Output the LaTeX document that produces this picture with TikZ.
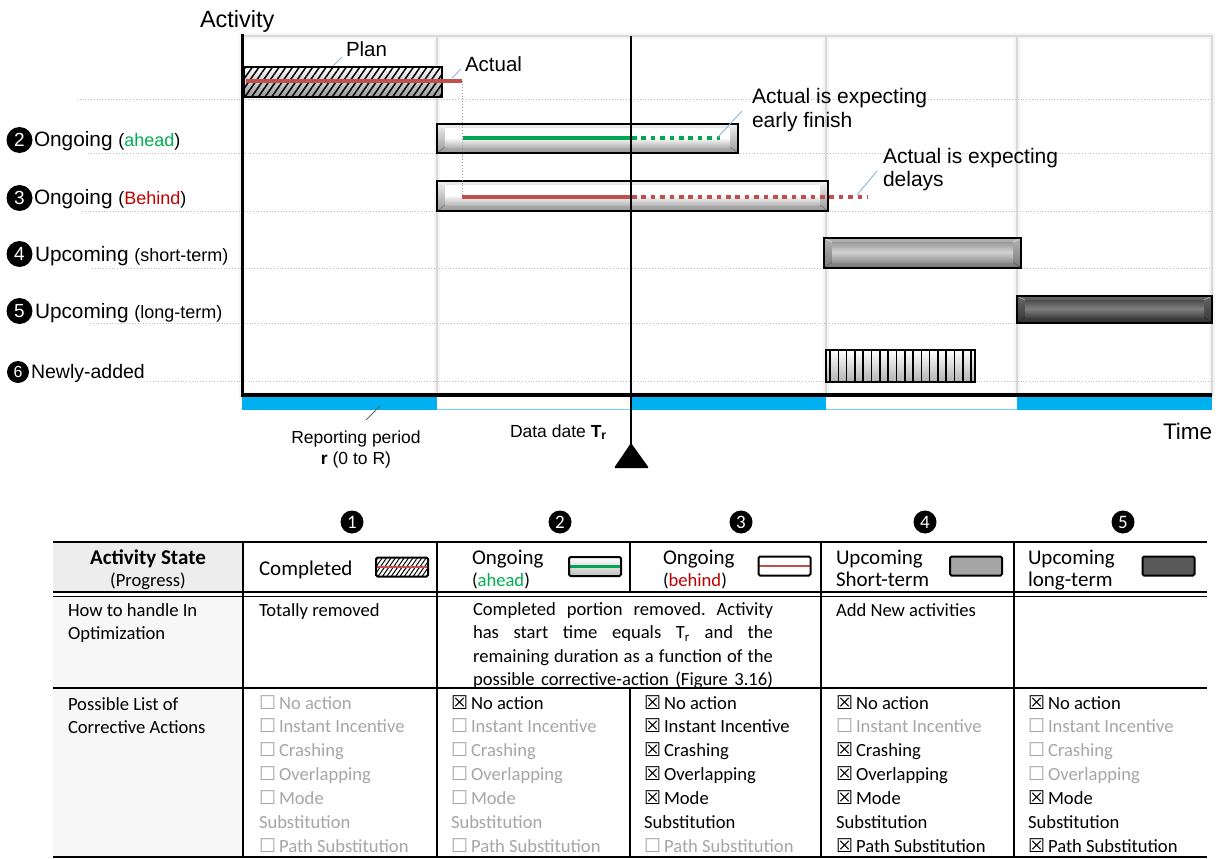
\documentclass[tikz,border=0pt]{standalone}
\usepackage{fontspec}
\setmainfont{Liberation Sans}
\newfontfamily\tabfont{Carlito}
\newfontfamily\boxfont{DejaVu Sans}
\usetikzlibrary{patterns.meta}
\frenchspacing

\definecolor{actred}{HTML}{C0504D}
\definecolor{actgreen}{HTML}{00A651}
\definecolor{txtgreen}{HTML}{00B050}
\definecolor{txtred}{HTML}{C00000}
\definecolor{band}{HTML}{00B0F0}
\definecolor{leader}{HTML}{8EB4E3}
\definecolor{offgray}{HTML}{A6A6A6}
\definecolor{midfill}{HTML}{A6A6A6}
\definecolor{darkfill}{HTML}{595959}

\newcommand{\fsz}[2]{\fontsize{#1}{#2}\selectfont}
% check-list entries: ticked (black) and unticked (grey)
\newcommand{\optyes}[1]{{\boxfont\fsz{19}{19}\char"2612}\hspace{3pt}#1}
\newcommand{\optno}[1]{\textcolor{offgray}{{\boxfont\fsz{19}{19}\char"2610}\hspace{3pt}#1}}
\newcommand{\optgray}[1]{\textcolor{offgray}{#1}}

\tikzset{
  every node/.style={inner sep=0pt, outer sep=0pt},
  chartlbl/.style={anchor=base west, font=\fsz{20.8}{25}},
  numdot/.style={circle, fill=black, text=white, minimum size=26pt, font=\fsz{19}{19}},
  tabdot/.style={circle, fill=black, text=white, minimum size=23pt, font=\tabfont\fsz{19}{19}},
  leaderline/.style={draw=leader, line width=0.9pt},
  rowline/.style={draw=black!25, line width=0.8pt, dotted},
  colglow/.style={draw=black!4, line width=6pt},
  colline/.style={draw=black!15, line width=1.2pt},
  actline/.style={line width=3.4pt},
  actdots/.style={line width=3.4pt, dash pattern=on 4.5pt off 4.9pt},
  axisline/.style={line width=3.6pt, line join=miter},
  tabline/.style={line width=2pt},
  hdr/.style={anchor=base west, font=\tabfont\fsz{21}{22}},
  body/.style={anchor=base west, font=\tabfont\fsz{18.6}{23.9}},
  bevel/.style n args={5}{draw=black, line width=2.6pt, path picture={
    \shade[top color=#1, bottom color=#2]
      (path picture bounding box.south west) rectangle (path picture bounding box.north east);
    \shade[top color=#3, bottom color=#5, middle color=#4]
      ([xshift=8pt,yshift=-4pt]path picture bounding box.north west) rectangle
      ([xshift=-8pt,yshift=6pt]path picture bounding box.south east);
    \draw[white, opacity=.45, line width=.8pt]
      (path picture bounding box.north west) -- ([xshift=8pt,yshift=-4pt]path picture bounding box.north west)
      (path picture bounding box.north east) -- ([xshift=-8pt,yshift=-4pt]path picture bounding box.north east);
    \draw[black, opacity=.25, line width=.8pt]
      (path picture bounding box.south west) -- ([xshift=8pt,yshift=6pt]path picture bounding box.south west)
      (path picture bounding box.south east) -- ([xshift=-8pt,yshift=6pt]path picture bounding box.south east);
  }},
  lightbar/.style={bevel={black!6}{black!40}{white}{white}{black!28}},
  midbar/.style={bevel={black!30}{black!52}{black!40}{black!18}{black!42}},
  darkbar/.style={bevel={black!60}{black!80}{black!70}{black!50}{black!72}},
  planbar/.style={draw=black, line width=2.6pt, path picture={
    \shade[top color=white, bottom color=black!40]
      (path picture bounding box.south west) rectangle (path picture bounding box.north east);
    \fill[pattern={Lines[angle=55,distance=5.5pt,line width=1.5pt]}, pattern color=black]
      (path picture bounding box.south west) rectangle (path picture bounding box.north east);
  }},
  newbar/.style={draw=black, line width=2.6pt, path picture={
    \shade[top color=white, bottom color=black!30]
      (path picture bounding box.south west) rectangle (path picture bounding box.north east);
    \fill[pattern={Lines[angle=90,distance=8.3pt,line width=1.6pt]}, pattern color=black]
      (path picture bounding box.south west) rectangle (path picture bounding box.north east);
  }},
  icon/.style={draw=black, line width=2pt, rounded corners=1.5pt, minimum width=52pt, minimum height=19pt},
}

\begin{document}
\begin{tikzpicture}[x=1pt, y=-1pt]
\useasboundingbox[fill=white] (0,0) rectangle (1218,859);

% ---------------- time grid ----------------
\foreach \xa/\xb in {242/437,437/826,826/1017,1017/1212}
  \draw[colglow] (\xa,36) rectangle (\xb,395);
\foreach \xa/\xb in {242/437,437/826,826/1017,1017/1212}
  \draw[colline] (\xa,36) rectangle (\xb,395);

% activity rows
\draw[rowline] (77,99) -- (1212,99);
\draw[rowline] (88,153) -- (1212,153);
\draw[rowline] (82,211) -- (1212,211);
\draw[rowline] (92,268) -- (1212,268);
\draw[rowline] (90,323) -- (1212,323);
\draw[rowline] (147,381) -- (1212,381);

% reporting-period band under the time axis
\fill[white] (242,397) rectangle (1212,410);
\draw[band!55, line width=.9pt] (242,409.5) -- (1212,409.5);
\foreach \xa/\xb in {242/437,632/826,1017/1212}
  \fill[band] (\xa,397) rectangle (\xb,410);

% ---------------- activity bars ----------------
\node[planbar, minimum width=198pt, minimum height=30pt] (plan) at (343,82) {};
\node[lightbar, minimum width=301pt, minimum height=29pt] (ahead) at (587.5,138.5) {};
\node[lightbar, minimum width=391pt, minimum height=30pt] (behind) at (632.5,196) {};
\node[midbar, minimum width=197pt, minimum height=30pt] (short) at (922.5,253) {};
\node[darkbar, minimum width=195pt, minimum height=27pt] (long) at (1114.5,309.5) {};
\node[newbar, minimum width=149pt, minimum height=32pt] (newly) at (900.5,366) {};

% actual progress lines
\coordinate (actstart) at (246,81);
\coordinate (actend) at (462,81);
\coordinate (aheadstart) at (463,138);
\coordinate (aheaddd) at (632,138);
\coordinate (aheadend) at (720,138);
\coordinate (behstart) at (462,197);
\coordinate (behdd) at (632,197);
\coordinate (behend) at (868,197);
\draw[black!40, line width=.9pt, dotted] (actend) -- (behstart);
\draw[actline, actred] (actstart) -- (actend);
\draw[actline, actgreen] (aheadstart) -- (aheaddd);
\draw[actdots, actgreen] (aheaddd) -- (aheadend);
\draw[actline, actred] (behstart) -- (behdd);
\draw[actdots, actred] (behdd) -- (behend);

% data date
\coordinate (ddtop) at (631,36);
\coordinate (ddbot) at (631,452);
\draw[line width=2pt] (ddtop) -- (ddbot);
\fill[rounded corners=1.2pt] (631,443) -- (649,468) -- (614,468) -- cycle;

% axes
\coordinate (ytop) at (242.5,34);
\coordinate (origin) at (242.5,395);
\coordinate (xend) at (1212,395);
\draw[axisline] (ytop) -- (origin) -- (xend);

% ---------------- chart labels ----------------
\node[anchor=base west, font=\fsz{23.5}{26}] (ylab) at (200,28) {Activity};
\node[anchor=base west, font=\fsz{22.5}{26}] (xlab) at (1163,439) {Time};

\node[chartlbl, font=\fsz{20.5}{24}] (planlbl) at (346,57) {Plan};
\coordinate (planpt) at (333,66);
\draw[leaderline] (planpt) -- (342,57);

\node[chartlbl, font=\fsz{20.5}{24}] (actlbl) at (465,72) {Actual};
\coordinate (actpt) at (452,78);
\draw[leaderline] (actpt) -- (461,69);

\node[chartlbl, font=\fsz{21}{24}] (earlylbl) at (752,103)
  {\parbox[t]{200pt}{\raggedright Actual is expecting\\early finish}};
\coordinate (earlypt) at (718,137);
\draw[leaderline] (earlypt) -- (742,111);

\node[chartlbl, font=\fsz{21}{23.5}] (delaylbl) at (883,163)
  {\parbox[t]{200pt}{\raggedright Actual is expecting\\delays}};
\coordinate (delaypt) at (857,195);
\draw[leaderline] (delaypt) -- (877,171);

\node[anchor=base, font=\fsz{17.5}{21}] (replbl) at (356,443)
  {\parbox[t]{200pt}{\centering Reporting period\\\textbf{r} (0 to R)}};
\coordinate (reppt) at (380,406);
\draw[black!60, line width=1pt] (reppt) -- (366,420);

\node[anchor=base west, font=\fsz{17.5}{21}] (ddlbl) at (510,437)
  {Data date \textbf{T}\textsubscript{\textbf{r}}};

% row labels
\node[numdot] (r2) at (19.5,140) {2};
\node[chartlbl] (r2t) at (34,146) {Ongoing {\fsz{18}{20}(\textcolor{txtgreen}{ahead})}};
\node[numdot] (r3) at (19.5,198) {3};
\node[chartlbl] (r3t) at (34,204) {Ongoing {\fsz{18}{20}(\textcolor{txtred}{Behind})}};
\node[numdot] (r4) at (19.5,254) {4};
\node[chartlbl] (r4t) at (35,261) {Upcoming {\fsz{18}{20}(short-term)}};
\node[numdot] (r5) at (19.5,311) {5};
\node[chartlbl] (r5t) at (35,318) {Upcoming {\fsz{18}{20}(long-term)}};
\node[numdot, minimum size=22pt, font=\fsz{16}{16}] (r6) at (18,372) {6};
\node[chartlbl, font=\fsz{19.5}{22}] (r6t) at (31,378) {Newly-added};

% ---------------- table ----------------
\fill[black!7] (53,542) rectangle (243,592);
\fill[black!3] (53,596.5) rectangle (243,857);

\node[tabdot] (t1) at (352,522) {1};
\node[tabdot] (t2) at (560,522) {2};
\node[tabdot] (t3) at (741,522) {3};
\node[tabdot] (t4) at (925,522) {4};
\node[tabdot] (t5) at (1123,522) {5};

\draw[tabline] (53,542) -- (1207,542);
\draw[tabline] (53,592) -- (1207,592);
\draw[line width=1pt] (53,596.5) -- (1207,596.5);
\draw[tabline] (53,688) -- (1207,688);
\draw[tabline] (53,857) -- (1207,857);
\draw[tabline] (243,542) -- (243,857);
\draw[tabline] (437,542) -- (437,857);
\draw[tabline] (630,542) -- (630,592);
\draw[tabline] (630,688) -- (630,857);
\draw[tabline] (821,542) -- (821,857);
\draw[tabline] (1014,542) -- (1014,857);

% header row
\node[anchor=base, font=\tabfont\fsz{21}{22}] (hstate) at (148,564)
  {\parbox[t]{185pt}{\centering\textbf{Activity State}\\{\fsz{18.6}{22}(Progress)}}};
\node[hdr] (hcomp) at (259,575) {Completed};
\node[hdr] (hahead) at (472,564)
  {\parbox[t]{90pt}{\raggedright Ongoing\\{\fsz{18.6}{22}(\textcolor{txtgreen}{ahead})}}};
\node[hdr] (hbehind) at (663,564)
  {\parbox[t]{90pt}{\raggedright Ongoing\\{\fsz{18.6}{22}(\textcolor{txtred}{behind})}}};
\node[hdr] (hshort) at (836,564) {\parbox[t]{110pt}{\raggedright Upcoming\\Short-term}};
\node[hdr] (hlong) at (1028,564) {\parbox[t]{110pt}{\raggedright Upcoming\\long-term}};

% legend icons
\node[icon, path picture={
    \fill[pattern={Lines[angle=55,distance=3.6pt,line width=1pt]}, pattern color=black]
      (path picture bounding box.south west) rectangle (path picture bounding box.north east);
    \draw[actred, line width=2.6pt] (path picture bounding box.west) -- (path picture bounding box.east);
  }] (icomp) at (402,567) {};
\node[icon, top color=white, bottom color=black!25, path picture={
    \draw[actgreen, line width=2.6pt] (path picture bounding box.west) -- (path picture bounding box.east);
  }] (iahead) at (595,566.5) {};
\node[icon, fill=white, path picture={
    \draw[actred, line width=2.6pt] (path picture bounding box.west) -- (path picture bounding box.east);
  }] (ibehind) at (784.5,566) {};
\node[icon, fill=midfill] (ishort) at (976,566) {};
\node[icon, fill=darkfill] (ilong) at (1168.5,566) {};

% handling row
\node[body] (howto) at (68,616) {\parbox[t]{170pt}{\raggedright How to handle In\\Optimization}};
\node[body] (totrem) at (259,616) {Totally removed};
\node[body] (handle) at (473,615) {\parbox[t]{300pt}{\fsz{18.6}{23.5}%
  \makebox[300pt][s]{Completed portion removed. Activity}\\
  \makebox[300pt][s]{has start time equals T\textsubscript{r} and the}\\
  \makebox[300pt][s]{remaining duration as a function of the}\\
  \makebox[300pt][s]{possible corrective-action (Figure 3.16)}}};
\node[body] (addnew) at (836,616) {Add New activities};

% corrective-action row
\node[body] (possible) at (68,710) {\parbox[t]{170pt}{\raggedright Possible List of\\Corrective Actions}};
\node[body] (opt1) at (259,709) {\parbox[t]{180pt}{\raggedright
  \optno{No action}\\ \optno{Instant Incentive}\\ \optno{Crashing}\\ \optno{Overlapping}\\
  \optno{Mode}\\ \optgray{Substitution}\\ \optno{Path Substitution}}};
\node[body] (opt2) at (451,709) {\parbox[t]{180pt}{\raggedright
  \optyes{No action}\\ \optno{Instant Incentive}\\ \optno{Crashing}\\ \optno{Overlapping}\\
  \optno{Mode}\\ \optgray{Substitution}\\ \optno{Path Substitution}}};
\node[body] (opt3) at (644,709) {\parbox[t]{180pt}{\raggedright
  \optyes{No action}\\ \optyes{Instant Incentive}\\ \optyes{Crashing}\\ \optyes{Overlapping}\\
  \optyes{Mode}\\ Substitution\\ \optno{Path Substitution}}};
\node[body] (opt4) at (836,709) {\parbox[t]{180pt}{\raggedright
  \optyes{No action}\\ \optno{Instant Incentive}\\ \optyes{Crashing}\\ \optyes{Overlapping}\\
  \optyes{Mode}\\ Substitution\\ \optyes{Path Substitution}}};
\node[body] (opt5) at (1028,709) {\parbox[t]{180pt}{\raggedright
  \optyes{No action}\\ \optno{Instant Incentive}\\ \optno{Crashing}\\ \optno{Overlapping}\\
  \optyes{Mode}\\ Substitution\\ \optyes{Path Substitution}}};
\end{tikzpicture}
\end{document}
